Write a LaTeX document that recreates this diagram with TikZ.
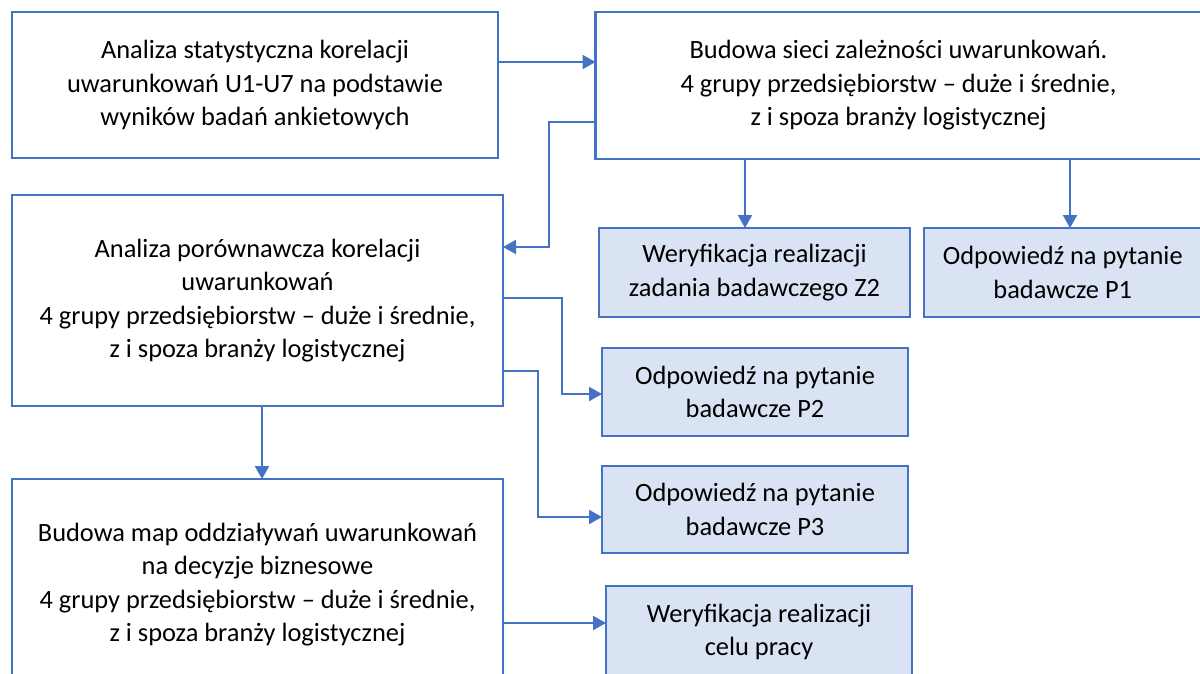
\documentclass[tikz,border=0pt]{standalone}
\usepackage{fontspec}
\setmainfont{Carlito}
\usetikzlibrary{arrows.meta}
\definecolor{boxline}{HTML}{4472C4}
\definecolor{boxfill}{HTML}{DAE3F3}
\begin{document}
\begin{tikzpicture}[x=1pt,y=-1pt,
  box/.style={draw=boxline, line width=2.8pt, rectangle, inner sep=0pt, outer sep=0pt,
    align=center, font=\fontsize{26.4}{33.5}\selectfont,
    execute at begin node={\rule{0pt}{28pt}}},
  result/.style={box, fill=boxfill},
  arr/.style={draw=boxline, line width=2.2pt,
    -{Triangle[length=13pt,width=14pt]}}]
\useasboundingbox (0,0) rectangle (1200,673);

% main analysis steps
\node[box, minimum width=486pt, minimum height=146pt] (b1) at (255,85)
  {Analiza statystyczna korelacji\\uwarunkowań U1-U7 na podstawie\\wyników badań ankietowych};
\node[box, minimum width=606pt, minimum height=147pt] (b2) at (898.5,85.5)
  {Budowa sieci zależności uwarunkowań.\\4 grupy przedsiębiorstw – duże i średnie,\\z i spoza branży logistycznej};
\node[box, minimum width=491pt, minimum height=211pt] (b3) at (257.5,300.5)
  {Analiza porównawcza korelacji\\uwarunkowań\\4 grupy przedsiębiorstw – duże i średnie,\\z i spoza branży logistycznej};
\node[box, minimum width=491pt, minimum height=211pt] (b4) at (257.5,584.5)
  {Budowa map oddziaływań uwarunkowań\\na decyzje biznesowe\\4 grupy przedsiębiorstw – duże i średnie,\\z i spoza branży logistycznej};

% outcomes
\node[result, minimum width=311pt, minimum height=89pt] (z2) at (754.5,272.5)
  {Weryfikacja realizacji\\zadania badawczego Z2};
\node[result, minimum width=277.5pt, minimum height=89pt] (p1) at (1062.75,272.5)
  {Odpowiedź na pytanie\\badawcze P1};
\node[result, minimum width=306pt, minimum height=88pt] (p2) at (755,392)
  {Odpowiedź na pytanie\\badawcze P2};
\node[result, minimum width=306pt, minimum height=87pt] (p3) at (755,509.5)
  {Odpowiedź na pytanie\\badawcze P3};
\node[result, minimum width=306pt, minimum height=92pt] (c) at (759,632)
  {Weryfikacja realizacji\\celu pracy};

% connectors
\draw[arr] (b1.east |- 0,62) -- (b2.west |- 0,62);
\draw[arr] (745,0 |- b2.south) -- (745,0 |- z2.north);
\draw[arr] (1070,0 |- b2.south) -- (1070,0 |- p1.north);
\draw[arr] (b2.west |- 0,122) -- (549,122) -- (549,247) -- (b3.east |- 0,247);
\draw[arr] (b3.east |- 0,298) -- (562,298) -- (562,394) -- (p2.west |- 0,394);
\draw[arr] (b3.east |- 0,371) -- (538,371) -- (538,517) -- (p3.west |- 0,517);
\draw[arr] (262,0 |- b3.south) -- (262,0 |- b4.north);
\draw[arr] (b4.east |- 0,623) -- (c.west |- 0,623);
\end{tikzpicture}
\end{document}
